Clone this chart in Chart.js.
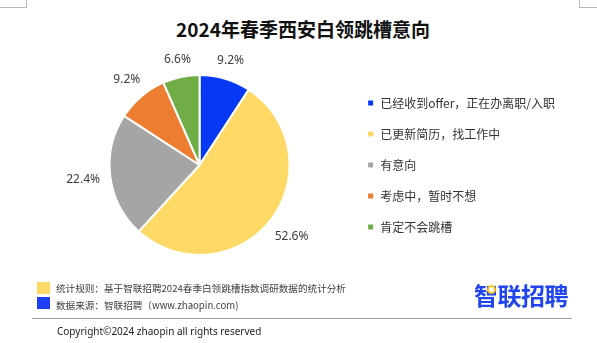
<!DOCTYPE html>
<html lang="zh-CN">
<head>
<meta charset="utf-8">
<title>2024年春季西安白领跳槽意向</title>
<script src="https://cdn.jsdelivr.net/npm/chart.js@4.4.1/dist/chart.umd.min.js"></script>
<style>
  html, body { margin: 0; padding: 0; background: #fff; }
  body {
    width: 597px; height: 343px; position: relative; overflow: hidden;
    font-family: "Noto Sans CJK SC", "Noto Sans", sans-serif;
  }
  #pie { position: absolute; left: 0; top: 0; }
  .corner { position: absolute; top: 0; height: 7px; border-bottom: 1px solid #b8b8b8; }
  .corner.l { left: 0; width: 26px; border-right: 1px solid #b8b8b8; }
  .corner.r { left: 579px; width: 18px; border-left: 1px solid #b8b8b8; }
  .title {
    position: absolute; left: 0; width: 606px; top: 18px; line-height: 22px;
    text-align: center; font-weight: bold; font-size: 19px; color: #111;
  }
  .swatch { position: absolute; left: 37px; width: 13px; height: 12px; }
  .note {
    position: absolute; left: 56px; font-size: 9.6px; line-height: 12px;
    color: #404040; white-space: nowrap;
  }
  .rule { position: absolute; left: 32px; width: 540px; top: 318px; border-top: 1px solid #a0a0a0; }
  .copy {
    position: absolute; left: 57px; top: 325px; font-family: "Noto Sans", sans-serif;
    font-size: 10px; line-height: 13px; color: #222; white-space: nowrap;
  }
  .logo {
    position: absolute; left: 474px; top: 281px; font-size: 24px; line-height: 28px;
    font-weight: bold; color: #1f44f0; letter-spacing: -0.5px; white-space: nowrap;
  }
  .logo-dot {
    position: absolute; left: 487px; top: 285px; width: 5px; height: 5px;
    border: 2px solid #ffc61a; border-radius: 50%; background: #fff;
  }
</style>
</head>
<body>
<div class="corner l"></div>
<div class="corner r"></div>
<div class="title">2024年春季西安白领跳槽意向</div>

<canvas id="pie" width="597" height="343"></canvas>

<div class="swatch" style="top:282px;background:#ffd966"></div>
<div class="swatch" style="top:297px;background:#1f3ff5"></div>
<div class="note" style="top:282px">统计规则：基于智联招聘2024春季白领跳槽指数调研数据的统计分析</div>
<div class="note" style="top:299px">数据来源：智联招聘（www.zhaopin.com)</div>
<div class="logo">智联招聘</div>
<div class="logo-dot"></div>
<div class="rule"></div>
<div class="copy">Copyright©2024 zhaopin all rights reserved</div>

<script>
// Survey answers and their shares (%)
const categories = ['已经收到offer，正在办离职/入职', '已更新简历，找工作中', '有意向', '考虑中，暂时不想', '肯定不会跳槽'];
const shares = [9.2, 52.6, 22.4, 9.2, 6.6];
const sliceColors = ['#0539f5', '#ffd966', '#a5a5a5', '#ed7d31', '#70ad47'];

Chart.defaults.font.family = '"Noto Sans CJK SC", "Noto Sans", sans-serif';
Chart.defaults.color = '#404040';

// Percent labels sitting just outside each slice
const outsideLabels = {
  id: 'outsideLabels',
  afterDatasetsDraw(chart) {
    const ctx = chart.ctx;
    const meta = chart.getDatasetMeta(0);
    ctx.save();
    ctx.font = '12px "Noto Sans", "Noto Sans CJK SC", sans-serif';
    ctx.fillStyle = '#404040';
    ctx.textAlign = 'center';
    ctx.textBaseline = 'middle';
    meta.data.forEach((arc, i) => {
      const { x, y, startAngle, endAngle, outerRadius } = arc.getProps(['x', 'y', 'startAngle', 'endAngle', 'outerRadius'], true);
      const mid = (startAngle + endAngle) / 2;
      const text = shares[i].toFixed(1) + '%';
      const halfW = ctx.measureText(text).width / 2;
      const cos = Math.cos(mid), sin = Math.sin(mid);
      const dist = outerRadius + 10 + Math.abs(cos) * halfW + Math.abs(sin) * 5;
      ctx.fillText(text, x + cos * dist, y + sin * dist);
    });
    ctx.restore();
  }
};

new Chart(document.getElementById('pie'), {
  type: 'pie',
  data: {
    labels: categories,
    datasets: [{
      data: shares,
      backgroundColor: sliceColors,
      borderColor: '#fff',
      borderWidth: 2,
      radius: 90,
      hoverOffset: 0
    }]
  },
  options: {
    responsive: false,
    animation: false,
    events: [],
    layout: { padding: { left: 51, right: 32, top: 72, bottom: 85 } },
    plugins: {
      tooltip: { enabled: false },
      legend: {
        position: 'right',
        labels: {
          boxWidth: 7,
          boxHeight: 7,
          padding: 19,
          color: '#333',
          font: { size: 12 }
        }
      }
    }
  },
  plugins: [outsideLabels]
});
</script>
</body>
</html>
